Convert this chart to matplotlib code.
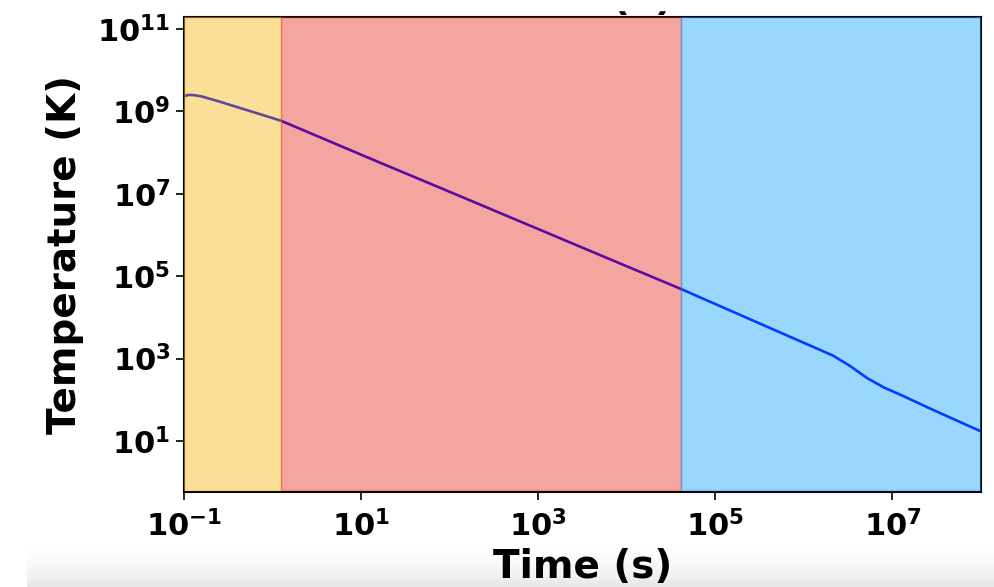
import numpy as np
import matplotlib
matplotlib.use('Agg')
import matplotlib.pyplot as plt
from matplotlib.patches import Rectangle

# ------------------------------------------------------------------
# data (log-log cooling curve)
# ------------------------------------------------------------------
time_s = [0.1, 0.107, 0.115, 0.132, 0.158, 0.251, 0.398, 0.631, 1.24,
          12.5, 169, 4980, 4.06e4, 3.84e5, 9.06e5, 1.41e6, 2.14e6, 3.31e6,
          5.13e6, 7.94e6, 1.26e7, 2.51e7, 5.01e7, 1e8]
temp_K = [2.34e9, 2.45e9, 2.51e9, 2.45e9, 2.29e9, 1.72e9, 1.26e9, 9.3e8,
          5.9e8, 7.2e7, 6.9e6, 3.24e5, 4.9e4, 5.9e3, 2.63e3, 1.74e3, 1.17e3,
          661, 339, 200, 129, 64.6, 33.1, 17]

# eras shaded behind the curve: edges in seconds
era_edges = [0.1, 1.24, 4.1e4, 1e8]
era_colors = ['#f5b100', '#e61e0f', '#009dff']

x_ticks = [1e-1, 1e1, 1e3, 1e5, 1e7]
y_ticks = [1e1, 1e3, 1e5, 1e7, 1e9, 1e11]

W, H = 995, 587


def main():
    plt.rcParams['font.family'] = 'DejaVu Sans'
    plt.rcParams['font.weight'] = 'bold'
    plt.rcParams['axes.labelweight'] = 'bold'

    fig = plt.figure(figsize=(W / 100, H / 100), dpi=100)

    # grey fade at the bottom of the screenshot
    bg = fig.add_axes([27 / W, 0, 1 - 27 / W, 44 / H], zorder=-1)
    grad = np.linspace(0, 1, 64) ** 1.6
    bg.imshow(grad[:, None], aspect='auto', cmap='Greys', vmin=0, vmax=5.5,
              extent=[0, 1, 0, 1], origin='upper')
    bg.axis('off')

    ax = fig.add_axes([184.3 / W, 1 - 492 / H, (981 - 184.3) / W, (492 - 17) / H])
    ax.plot(time_s, temp_K, color='blue', lw=1.9, zorder=2)

    for (x0, x1), c in zip(zip(era_edges[:-1], era_edges[1:]), era_colors):
        ax.axvspan(x0, x1, ymin=0.004, ymax=1, color=c, alpha=0.4, zorder=3)

    ax.set_xscale('log')
    ax.set_yscale('log')
    ax.set_xlim(era_edges[0], era_edges[-1])
    ax.set_ylim(10 ** -0.24, 10 ** 11.29)
    ax.set_xticks(x_ticks)
    ax.set_yticks(y_ticks)
    ax.minorticks_off()
    ax.tick_params(labelsize=22, length=6, width=1.2, pad=4)
    ax.tick_params(axis='x', pad=7)
    for s in ax.spines.values():
        s.set_linewidth(1.5)

    ax.set_xlabel('Time (s)', fontsize=28, labelpad=4)
    ax.set_ylabel('Temperature (K)', fontsize=28, labelpad=10)

    # title, mostly cut off by the top of the screenshot
    fig.text(643 / W, 1 - 10 / H, '(a)', fontsize=28, ha='center',
             va='baseline', zorder=1)
    fig.patches.append(Rectangle((0, 1 - 10 / H), 1, 10 / H,
                                 transform=fig.transFigure, color='white',
                                 zorder=5))

    fig.savefig('out.png', dpi=100)
    plt.close(fig)


if __name__ == '__main__':
    main()
